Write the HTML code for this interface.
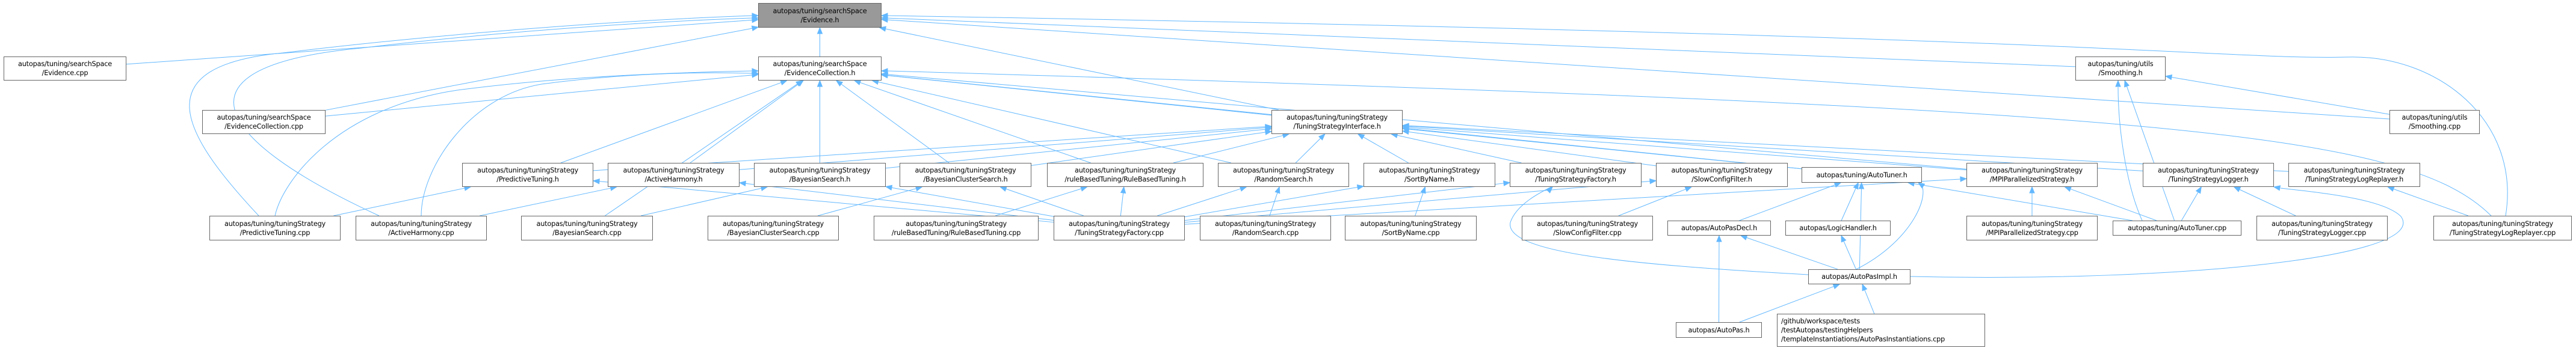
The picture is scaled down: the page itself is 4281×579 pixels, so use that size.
<!DOCTYPE html>
<html><head><meta charset="utf-8">
<style>
html,body{margin:0;padding:0;background:#fff;}
#w{position:relative;width:4281px;height:579px;overflow:hidden;}
svg{position:absolute;left:0;top:0;}
.n{position:absolute;box-sizing:border-box;border:1px solid #666;background:#fff;font-family:"DejaVu Sans","Liberation Sans",sans-serif;font-size:11.3px;line-height:15px;color:#000;text-align:center;white-space:nowrap;display:flex;flex-direction:column;justify-content:center;letter-spacing:-0.2px;}
.g{background:#999;}
.l{text-align:left;align-items:flex-start;padding-left:6px;}
</style></head><body><div id="w">
<svg id="s" width="4281" height="579"></svg>
<div class="n g" style="left:1260px;top:5px;width:205px;height:41px">autopas/tuning/searchSpace<br>/Evidence.h</div>
<div class="n" style="left:1260px;top:94px;width:205px;height:40px">autopas/tuning/searchSpace<br>/EvidenceCollection.h</div>
<div class="n" style="left:6px;top:94px;width:204px;height:40px">autopas/tuning/searchSpace<br>/Evidence.cpp</div>
<div class="n" style="left:336px;top:183px;width:205px;height:40px">autopas/tuning/searchSpace<br>/EvidenceCollection.cpp</div>
<div class="n" style="left:2113px;top:183px;width:218px;height:40px">autopas/tuning/tuningStrategy<br>/TuningStrategyInterface.h</div>
<div class="n" style="left:3449px;top:94px;width:150px;height:40px">autopas/tuning/utils<br>/Smoothing.h</div>
<div class="n" style="left:3971px;top:183px;width:150px;height:40px">autopas/tuning/utils<br>/Smoothing.cpp</div>
<div class="n" style="left:768px;top:271px;width:218px;height:40px">autopas/tuning/tuningStrategy<br>/PredictiveTuning.h</div>
<div class="n" style="left:1010px;top:271px;width:219px;height:40px">autopas/tuning/tuningStrategy<br>/ActiveHarmony.h</div>
<div class="n" style="left:1253px;top:271px;width:219px;height:40px">autopas/tuning/tuningStrategy<br>/BayesianSearch.h</div>
<div class="n" style="left:1495px;top:271px;width:219px;height:40px">autopas/tuning/tuningStrategy<br>/BayesianClusterSearch.h</div>
<div class="n" style="left:1740px;top:271px;width:260px;height:40px">autopas/tuning/tuningStrategy<br>/ruleBasedTuning/RuleBasedTuning.h</div>
<div class="n" style="left:2024px;top:271px;width:218px;height:40px">autopas/tuning/tuningStrategy<br>/RandomSearch.h</div>
<div class="n" style="left:2266px;top:271px;width:219px;height:40px">autopas/tuning/tuningStrategy<br>/SortByName.h</div>
<div class="n" style="left:2509px;top:271px;width:219px;height:40px">autopas/tuning/tuningStrategy<br>/TuningStrategyFactory.h</div>
<div class="n" style="left:2752px;top:271px;width:219px;height:40px">autopas/tuning/tuningStrategy<br>/SlowConfigFilter.h</div>
<div class="n" style="left:2994px;top:278px;width:200px;height:26px">autopas/tuning/AutoTuner.h</div>
<div class="n" style="left:3268px;top:271px;width:218px;height:40px">autopas/tuning/tuningStrategy<br>/MPIParallelizedStrategy.h</div>
<div class="n" style="left:3561px;top:271px;width:218px;height:40px">autopas/tuning/tuningStrategy<br>/TuningStrategyLogger.h</div>
<div class="n" style="left:3803px;top:271px;width:219px;height:40px">autopas/tuning/tuningStrategy<br>/TuningStrategyLogReplayer.h</div>
<div class="n" style="left:348px;top:359px;width:218px;height:41px">autopas/tuning/tuningStrategy<br>/PredictiveTuning.cpp</div>
<div class="n" style="left:591px;top:359px;width:218px;height:41px">autopas/tuning/tuningStrategy<br>/ActiveHarmony.cpp</div>
<div class="n" style="left:866px;top:359px;width:219px;height:41px">autopas/tuning/tuningStrategy<br>/BayesianSearch.cpp</div>
<div class="n" style="left:1176px;top:359px;width:218px;height:41px">autopas/tuning/tuningStrategy<br>/BayesianClusterSearch.cpp</div>
<div class="n" style="left:1452px;top:359px;width:274px;height:41px">autopas/tuning/tuningStrategy<br>/ruleBasedTuning/RuleBasedTuning.cpp</div>
<div class="n" style="left:1751px;top:359px;width:218px;height:41px">autopas/tuning/tuningStrategy<br>/TuningStrategyFactory.cpp</div>
<div class="n" style="left:1994px;top:359px;width:218px;height:41px">autopas/tuning/tuningStrategy<br>/RandomSearch.cpp</div>
<div class="n" style="left:2235px;top:359px;width:219px;height:41px">autopas/tuning/tuningStrategy<br>/SortByName.cpp</div>
<div class="n" style="left:2529px;top:359px;width:218px;height:41px">autopas/tuning/tuningStrategy<br>/SlowConfigFilter.cpp</div>
<div class="n" style="left:2771px;top:367px;width:172px;height:25px">autopas/AutoPasDecl.h</div>
<div class="n" style="left:2967px;top:367px;width:175px;height:25px">autopas/LogicHandler.h</div>
<div class="n" style="left:3268px;top:359px;width:218px;height:41px">autopas/tuning/tuningStrategy<br>/MPIParallelizedStrategy.cpp</div>
<div class="n" style="left:3511px;top:367px;width:214px;height:25px">autopas/tuning/AutoTuner.cpp</div>
<div class="n" style="left:3750px;top:359px;width:218px;height:41px">autopas/tuning/tuningStrategy<br>/TuningStrategyLogger.cpp</div>
<div class="n" style="left:4044px;top:359px;width:230px;height:41px">autopas/tuning/tuningStrategy<br>/TuningStrategyLogReplayer.cpp</div>
<div class="n" style="left:3005px;top:448px;width:170px;height:25px">autopas/AutoPasImpl.h</div>
<div class="n" style="left:2785px;top:536px;width:143px;height:26px">autopas/AutoPas.h</div>
<div class="n l" style="left:2953px;top:522px;width:346px;height:55px">/github/workspace/tests<br>/testAutopas/testingHelpers<br>/templateInstantiations/AutoPasInstantiations.cpp</div>
</div>
<script>
const B={
ev:[1260,5,205,41],ec:[1260,94,205,40],evcpp:[6,94,204,40],eccpp:[336,183,205,40],tsi:[2113,183,218,40],
smh:[3449,94,150,40],smcpp:[3971,183,150,40],
pth:[768,271,218,40],ahh:[1010,271,219,40],bsh:[1253,271,219,40],bcsh:[1495,271,219,40],rbth:[1740,271,260,40],
rsh:[2024,271,218,40],sbnh:[2266,271,219,40],tsfh:[2509,271,219,40],scfh:[2752,271,219,40],ath:[2994,278,200,26],
mpih:[3268,271,218,40],tslh:[3561,271,218,40],tslrh:[3803,271,219,40],
ptc:[348,359,218,41],ahc:[591,359,218,41],bsc:[866,359,219,41],bcsc:[1176,359,218,41],rbtc:[1452,359,274,41],
tsfc:[1751,359,218,41],rsc:[1994,359,218,41],sbnc:[2235,359,219,41],scfc:[2529,359,218,41],apd:[2771,367,172,25],
lh:[2967,367,175,25],mpic:[3268,359,218,41],atc:[3511,367,214,25],tslc:[3750,359,218,41],tslrc:[4044,359,230,41],
api:[3005,448,170,25],ap:[2785,536,143,26],gh:[2953,522,346,55]};
// [included, includer]
const E=[
['ev','evcpp'],['ev','ec'],['ev','eccpp'],['ev','tsi'],['ev','smh'],['ev','smcpp'],
['ec','eccpp'],['ec','pth'],['ec','ahh'],['ec','bsh'],['ec','bcsh'],['ec','rbth'],['ec','rsh'],['ec','tsi'],['ec','ath'],['ec','mpih'],['ec','bsc'],
['tsi','pth'],['tsi','ahh'],['tsi','bsh'],['tsi','bcsh'],['tsi','rbth'],['tsi','rsh'],['tsi','sbnh'],['tsi','tsfh'],['tsi','scfh'],['tsi','ath'],['tsi','mpih'],['tsi','tslh'],['tsi','tslrh'],
['pth','ptc'],['pth','tsfc'],['ahh','ahc'],['ahh','tsfc'],['bsh','bsc'],['bsh','tsfc'],['bcsh','bcsc'],['bcsh','tsfc'],
['rbth','rbtc'],['rbth','tsfc'],['rsh','rsc'],['rsh','tsfc'],['sbnh','sbnc'],['sbnh','tsfc'],['tsfh','tsfc'],
['scfh','scfc'],['scfh','tsfc'],['ath','apd'],['ath','lh'],['ath','api'],['ath','atc'],['mpih','mpic'],['mpih','atc'],['mpih','tsfc'],
['tslh','atc'],['tslh','tslc'],['tslrh','tslrc'],['smh','smcpp'],['smh','atc'],['apd','ap'],['apd','api'],['lh','api'],['api','ap'],['api','gh']];
const C='#63b8ff';
const s=document.getElementById('s');let h='';
function ctr(b){return [b[0]+b[2]/2,b[1]+b[3]/2];}
function clip(b,c,o){const dx=o[0]-c[0],dy=o[1]-c[1];let t=1;
 if(dx)t=Math.min(t,Math.abs(b[2]/2/dx));if(dy)t=Math.min(t,Math.abs(b[3]/2/dy));return [c[0]+dx*t,c[1]+dy*t];}
function arrow(p,q){const dx=p[0]-q[0],dy=p[1]-q[1],L=Math.hypot(dx,dy)||1,ux=dx/L,uy=dy/L,l=10,w=4;
 const bx=p[0]-ux*l,by=p[1]-uy*l;
 h+=`<polygon points="${p[0]},${p[1]} ${bx-uy*w},${by+ux*w} ${bx+uy*w},${by-ux*w}" fill="${C}" stroke="${C}"/>`;return [bx,by];}
for(const [d,sname] of E){const bd=B[d],bs=B[sname];const cd=ctr(bd),cs=ctr(bs);
 const p=clip(bd,cd,cs),q=clip(bs,cs,cd);const e=arrow(p,q);
 h+=`<line x1="${q[0]}" y1="${q[1]}" x2="${e[0]}" y2="${e[1]}" stroke="${C}" stroke-width="1"/>`;}
function curve(d,tip,c2){h+=`<path d="${d}" fill="none" stroke="${C}" stroke-width="1"/>`;arrow(tip,c2);}
// custom curves
curve('M430,359 C300,220 240,110 470,88 C700,60 1000,35 1250,26',[1260,26],[1250,26]);
curve('M630,359 C350,230 280,110 600,80 C850,50 1100,35 1250,30',[1260,30],[1250,30]);
curve('M457,359 C470,300 560,180 760,150 C950,125 1150,120 1250,118',[1260,118],[1250,118]);
curve('M700,359 C700,280 780,160 900,140 C1050,120 1180,120 1250,122',[1260,122],[1250,122]);
curve('M4164,359 C4190,200 4050,90 3900,95 C3700,100 3500,60 1475,26',[1465,26],[1475,26]);
curve('M4140,359 C4000,220 3600,180 1475,118',[1465,118],[1475,118]);
curve('M3175,460 C3600,470 4040,430 3990,360 C3960,330 3850,320 3790,313',[3779,311],[3790,313]);
curve('M3005,457 C2700,440 2500,420 2510,370 C2520,340 2560,320 2578,311',[2580,311],[2578,313]);
curve('M3560,367 C3530,300 3520,200 3520,145',[3520,134],[3520,145]);
curve('M3085,448 C3180,400 3210,320 3190,304',[3188,304],[3191,306]);
s.innerHTML=h;
</script>
</body></html>
